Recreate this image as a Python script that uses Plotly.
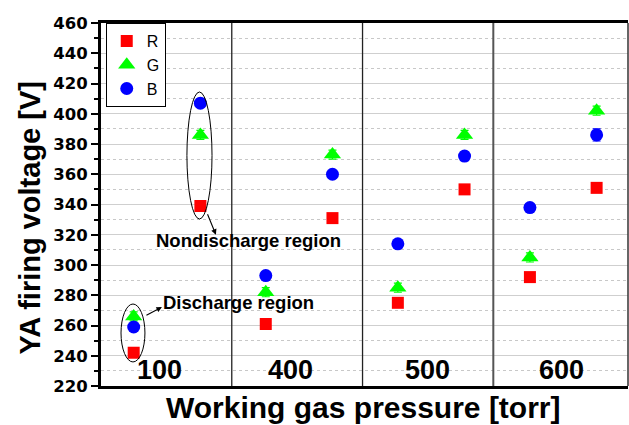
import plotly.graph_objects as go

# ---- data ----
pressures = ["100", "400", "500", "600"]
regions = ["Discharge", "Nondischarge"]
# values ordered: (100 D, 100 N, 400 D, 400 N, 500 D, 500 N, 600 D, 600 N)
R_vals = [242, 339, 261, 331, 275, 350, 292, 351]
G_vals = [266, 386, 282, 373, 285, 386, 305, 402]
B_vals = [259, 407, 293, 360, 314, 372, 338, 386]
R_err = [0, 0, 0, 0, 0, 0, 0, 0]
G_err = [3, 3, 3, 3, 3, 3, 3, 3]
B_err = [1, 1, 1, 1, 1, 3, 1, 4]
region_offsets = [0.25, 0.76]
label_pos = [0.45, 1.45, 2.5, 3.52]

x_pos = []
for i, p in enumerate(pressures):
    for j, r in enumerate(regions):
        x_pos.append(i + region_offsets[j] + 0.01 * i)

FONT = "Liberation Sans, Arial, sans-serif"

fig = go.Figure()
series = [
    ("R", R_vals, R_err, "square", "#ff0000", 12),
    ("G", G_vals, G_err, "triangle-up", "#00ff00", 15),
    ("B", B_vals, B_err, "circle", "#0000ff", 13),
]
for name, vals, err, sym, col, sz in series:
    fig.add_trace(go.Scatter(
        x=x_pos, y=vals, mode="markers", name=name,
        marker=dict(symbol=sym, color=col, size=sz, line=dict(width=0)),
        error_y=dict(type="data", array=err, visible=True, color=col,
                     thickness=1.2, width=4),
    ))

ann = []
# group labels (inside plot, at bottom)
for lp, txt in zip(label_pos, pressures):
    ann.append(dict(x=lp, y=220, xref="x", yref="y", yanchor="bottom", yshift=-1,
                    text="<b>%s</b>" % txt, showarrow=False,
                    font=dict(size=27, color="black", family=FONT)))
# axis titles
ann.append(dict(x=0.499, y=-0.059, xref="paper", yref="paper", xanchor="center",
                yanchor="middle", text="<b>Working gas pressure [torr]</b>",
                showarrow=False, font=dict(size=30, color="black", family=FONT)))
ann.append(dict(x=-0.135, y=0.464, xref="paper", yref="paper", xanchor="center",
                yanchor="middle", textangle=-90, text="<b>YA firing voltage [V]</b>",
                showarrow=False, font=dict(size=29, color="black", family=FONT)))
# region labels with arrows
ann.append(dict(x=1.13, y=316, xref="x", yref="y", text="<b>Nondischarge region</b>",
                showarrow=False, font=dict(size=18.5, color="black", family=FONT)))
ann.append(dict(x=1.05, y=275, xref="x", yref="y", text="<b>Discharge region</b>",
                showarrow=False, font=dict(size=18.5, color="black", family=FONT)))
ann.append(dict(x=0.879, y=320, ax=0.81, ay=334.5, xref="x", yref="y",
                axref="x", ayref="y", text="", showarrow=True,
                arrowhead=2, arrowsize=1, arrowwidth=1.1, arrowcolor="black"))
ann.append(dict(x=0.466, y=272.2, ax=0.336, ay=266.3, xref="x", yref="y",
                axref="x", ayref="y", text="", showarrow=True,
                arrowhead=2, arrowsize=1, arrowwidth=1.1, arrowcolor="black"))

shapes = []
for d, col, w in [(1, "#222222", 1.3), (2, "#222222", 1.3), (3, "#555555", 2)]:
    shapes.append(dict(type="line", xref="x", yref="paper", x0=d, x1=d, y0=0, y1=1,
                       line=dict(color=col, width=w)))
# right border
shapes.append(dict(type="line", xref="paper", yref="paper", x0=1, x1=1, y0=0, y1=1,
                   line=dict(color="#333333", width=1.5)))
# ellipses
shapes.append(dict(type="circle", xref="x", yref="y", x0=0.657, x1=0.849, y0=330.4, y1=414.4,
                   line=dict(color="black", width=1)))
shapes.append(dict(type="circle", xref="x", yref="y", x0=0.153, x1=0.336, y0=235.9, y1=274.2,
                   line=dict(color="black", width=1)))

fig.update_layout(
    width=629, height=425,
    margin=dict(l=101, r=1, t=23, b=39),
    paper_bgcolor="white", plot_bgcolor="white",
    font=dict(family=FONT, color="black"),
    annotations=ann, shapes=shapes,
    legend=dict(x=0.009, y=1, xanchor="left", yanchor="top",
                bgcolor="white", bordercolor="black", borderwidth=1,
                font=dict(size=16, family=FONT), itemwidth=30,
                tracegroupgap=0),
    showlegend=True,
)
fig.update_xaxes(
    range=[0, 4.03], showticklabels=False, ticks="",
    showgrid=False, zeroline=False,
    showline=True, linecolor="black", linewidth=3, mirror=True,
    automargin=False,
)
fig.update_yaxes(
    range=[220, 460], dtick=20, tick0=220,
    ticks="outside", ticklen=7, tickwidth=2, tickcolor="black",
    tickfont=dict(size=16.5, family="DejaVu Sans", color="black", weight="bold"),
    showgrid=True, gridcolor="#cfcfcf", gridwidth=1,
    minor=dict(dtick=10, ticks="outside", ticklen=4, tickwidth=2, tickcolor="black",
               showgrid=True, gridcolor="#c8c8c8", griddash="dot", gridwidth=1),
    zeroline=False,
    showline=True, linecolor="black", linewidth=3,
    automargin=False,
)

fig.write_html("out.html")
